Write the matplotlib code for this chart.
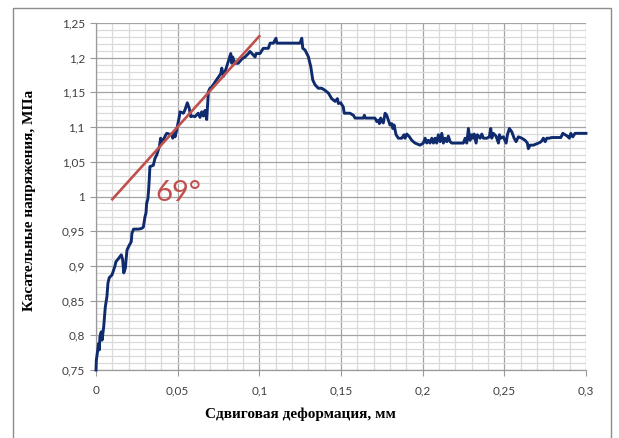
"""Shear stress vs. shear displacement curve with the initial slope line."""
import matplotlib
matplotlib.use("Agg")
import matplotlib.pyplot as plt
from matplotlib.patches import Rectangle
from matplotlib.ticker import FuncFormatter, MultipleLocator

# shear displacement, mm
disp = [
    0.0000, 0.0002, 0.0016, 0.0020, 0.0024, 0.0032, 0.0037, 0.0047, 0.0057, 0.0067,
    0.0073, 0.0081, 0.0098, 0.0115, 0.0122, 0.0139, 0.0155, 0.0163, 0.0170, 0.0180,
    0.0184, 0.0190, 0.0200, 0.0216, 0.0220, 0.0230, 0.0260, 0.0280, 0.0290, 0.0300,
    0.0306, 0.0310, 0.0318, 0.0322, 0.0326, 0.0330, 0.0351, 0.0361, 0.0372, 0.0388,
    0.0396, 0.0402, 0.0412, 0.0423, 0.0433, 0.0464, 0.0470, 0.0478, 0.0484, 0.0494,
    0.0510, 0.0514, 0.0535, 0.0545, 0.0559, 0.0571, 0.0580, 0.0592, 0.0606, 0.0626,
    0.0637, 0.0647, 0.0657, 0.0667, 0.0678, 0.0688, 0.0698, 0.0709, 0.0718, 0.0729,
    0.0764, 0.0770, 0.0780, 0.0790, 0.0800, 0.0816, 0.0825, 0.0831, 0.0837, 0.0851,
    0.0871, 0.0892, 0.0912, 0.0933, 0.0943, 0.0974, 0.0980, 0.1004, 0.1024, 0.1055,
    0.1066, 0.1086, 0.1102, 0.1107, 0.1249, 0.1260, 0.1266, 0.1280, 0.1300, 0.1315,
    0.1327, 0.1341, 0.1361, 0.1382, 0.1402, 0.1423, 0.1443, 0.1464, 0.1478, 0.1484,
    0.1498, 0.1514, 0.1520, 0.1555, 0.1576, 0.1586, 0.1637, 0.1643, 0.1649, 0.1708,
    0.1719, 0.1729, 0.1735, 0.1743, 0.1750, 0.1759, 0.1770, 0.1780, 0.1790, 0.1800,
    0.1811, 0.1817, 0.1825, 0.1837, 0.1851, 0.1872, 0.1886, 0.1892, 0.1903, 0.1919,
    0.1933, 0.1953, 0.1984, 0.2004, 0.2015, 0.2025, 0.2035, 0.2045, 0.2056, 0.2066,
    0.2076, 0.2086, 0.2096, 0.2107, 0.2117, 0.2127, 0.2137, 0.2148, 0.2157, 0.2168,
    0.2178, 0.2249, 0.2260, 0.2270, 0.2280, 0.2290, 0.2301, 0.2307, 0.2315, 0.2327,
    0.2335, 0.2352, 0.2362, 0.2372, 0.2393, 0.2408, 0.2417, 0.2423, 0.2433, 0.2449,
    0.2464, 0.2470, 0.2478, 0.2494, 0.2511, 0.2519, 0.2531, 0.2546, 0.2560, 0.2572,
    0.2586, 0.2607, 0.2627, 0.2641, 0.2647, 0.2658, 0.2678, 0.2699, 0.2719, 0.2729,
    0.2739, 0.2750, 0.2760, 0.2776, 0.2791, 0.2846, 0.2858, 0.2872, 0.2886, 0.2898,
    0.2907, 0.2919, 0.2933, 0.3000,
]

# shear stress, MPa
stress = [
    0.750, 0.764, 0.788, 0.779, 0.798, 0.805, 0.793, 0.812, 0.841, 0.856,
    0.875, 0.883, 0.887, 0.899, 0.906, 0.911, 0.916, 0.909, 0.890, 0.897,
    0.909, 0.923, 0.928, 0.935, 0.947, 0.953, 0.953, 0.954, 0.956, 0.971,
    0.976, 0.990, 0.997, 1.009, 1.024, 1.043, 1.045, 1.055, 1.060, 1.072,
    1.084, 1.079, 1.081, 1.087, 1.091, 1.089, 1.084, 1.092, 1.086, 1.096,
    1.115, 1.122, 1.120, 1.125, 1.135, 1.127, 1.115, 1.116, 1.115, 1.120,
    1.114, 1.122, 1.116, 1.124, 1.111, 1.151, 1.156, 1.158, 1.161, 1.165,
    1.177, 1.185, 1.173, 1.180, 1.187, 1.199, 1.206, 1.192, 1.201, 1.192,
    1.192, 1.198, 1.201, 1.206, 1.209, 1.201, 1.206, 1.206, 1.2135, 1.2135,
    1.221, 1.221, 1.228, 1.221, 1.221, 1.228, 1.2135, 1.211, 1.2015, 1.187,
    1.168, 1.161, 1.156, 1.156, 1.153, 1.149, 1.141, 1.137, 1.141, 1.134,
    1.135, 1.129, 1.120, 1.120, 1.117, 1.113, 1.113, 1.117, 1.113, 1.113,
    1.108, 1.110, 1.105, 1.113, 1.108, 1.106, 1.120, 1.117, 1.110, 1.103,
    1.105, 1.098, 1.103, 1.089, 1.084, 1.084, 1.089, 1.084, 1.090, 1.086,
    1.081, 1.077, 1.074, 1.077, 1.084, 1.077, 1.081, 1.077, 1.084, 1.077,
    1.084, 1.077, 1.089, 1.079, 1.091, 1.077, 1.084, 1.079, 1.087, 1.079,
    1.077, 1.077, 1.084, 1.077, 1.098, 1.081, 1.089, 1.084, 1.090, 1.077,
    1.089, 1.084, 1.090, 1.084, 1.084, 1.086, 1.098, 1.084, 1.091, 1.087,
    1.077, 1.089, 1.084, 1.086, 1.077, 1.089, 1.098, 1.093, 1.084, 1.079,
    1.086, 1.084, 1.081, 1.077, 1.069, 1.074, 1.074, 1.076, 1.078, 1.080,
    1.084, 1.079, 1.084, 1.084, 1.085, 1.085, 1.091, 1.089, 1.087, 1.084,
    1.091, 1.086, 1.091, 1.091,
]

# initial slope line and its angle
slope_x = [0.01, 0.10]
slope_y = [0.996, 1.231]
angle_label = "69°"

W, H = 619, 438
fig = plt.figure(figsize=(W / 100, H / 100), dpi=100)

# outer chart frame
fig.add_artist(Rectangle((13 / W, -0.05), (611 - 13) / W, 1.05 - 8 / H,
                         transform=fig.transFigure, fill=False,
                         edgecolor="#8c8c8c", lw=1.0))

ax = fig.add_axes([96 / W, 1 - 370 / H, (586 - 96) / W, (370 - 23) / H])
ax.set_xlim(0, 0.3)
ax.set_ylim(0.75, 1.25)

ax.xaxis.set_major_locator(MultipleLocator(0.05))
ax.xaxis.set_minor_locator(MultipleLocator(0.01))
ax.yaxis.set_major_locator(MultipleLocator(0.05))
ax.yaxis.set_minor_locator(MultipleLocator(0.01))

comma = FuncFormatter(lambda v, _: f"{v:.2f}".rstrip("0").rstrip(".").replace(".", ","))
ax.xaxis.set_major_formatter(comma)
ax.yaxis.set_major_formatter(comma)

ax.grid(which="minor", color="#dadada", lw=0.9)
ax.grid(which="major", color="#a3a3a3", lw=0.9)
ax.set_axisbelow(True)
for side in ["top", "right"]:
    ax.spines[side].set_visible(False)
for side in ["left", "bottom"]:
    ax.spines[side].set_color("#9a9a9a")
    ax.spines[side].set_linewidth(0.9)

ax.tick_params(which="major", length=4, width=0.8, color="#9a9a9a",
               labelsize=8.5, labelcolor="#404040", pad=4)
ax.tick_params(which="minor", length=0)
for lbl in ax.get_xticklabels() + ax.get_yticklabels():
    lbl.set_fontfamily("Lato")
ax.tick_params(axis="x", pad=7)

ax.plot(disp, stress, color="#0f2b6e", lw=2.1, zorder=3, clip_on=False)
ax.plot(slope_x, slope_y, color="#c0504d", lw=1.9, zorder=4)
ax.text(0.0365, 0.9935, angle_label, color="#c0504d", fontsize=21,
        fontfamily="Lato", ha="left", va="baseline", zorder=5)

fig.text(300 / W, 1 - 414 / H, "Сдвиговая деформация, мм", ha="center", va="center",
         fontsize=11, fontweight="bold", fontfamily="Liberation Serif")
fig.text(30 / W, 1 - 200 / H, "Касательные напряжения, МПа", ha="center", va="center",
         rotation=90, fontsize=11, fontweight="bold", fontfamily="Liberation Serif")

fig.savefig("out.png", dpi=100)
plt.close(fig)
